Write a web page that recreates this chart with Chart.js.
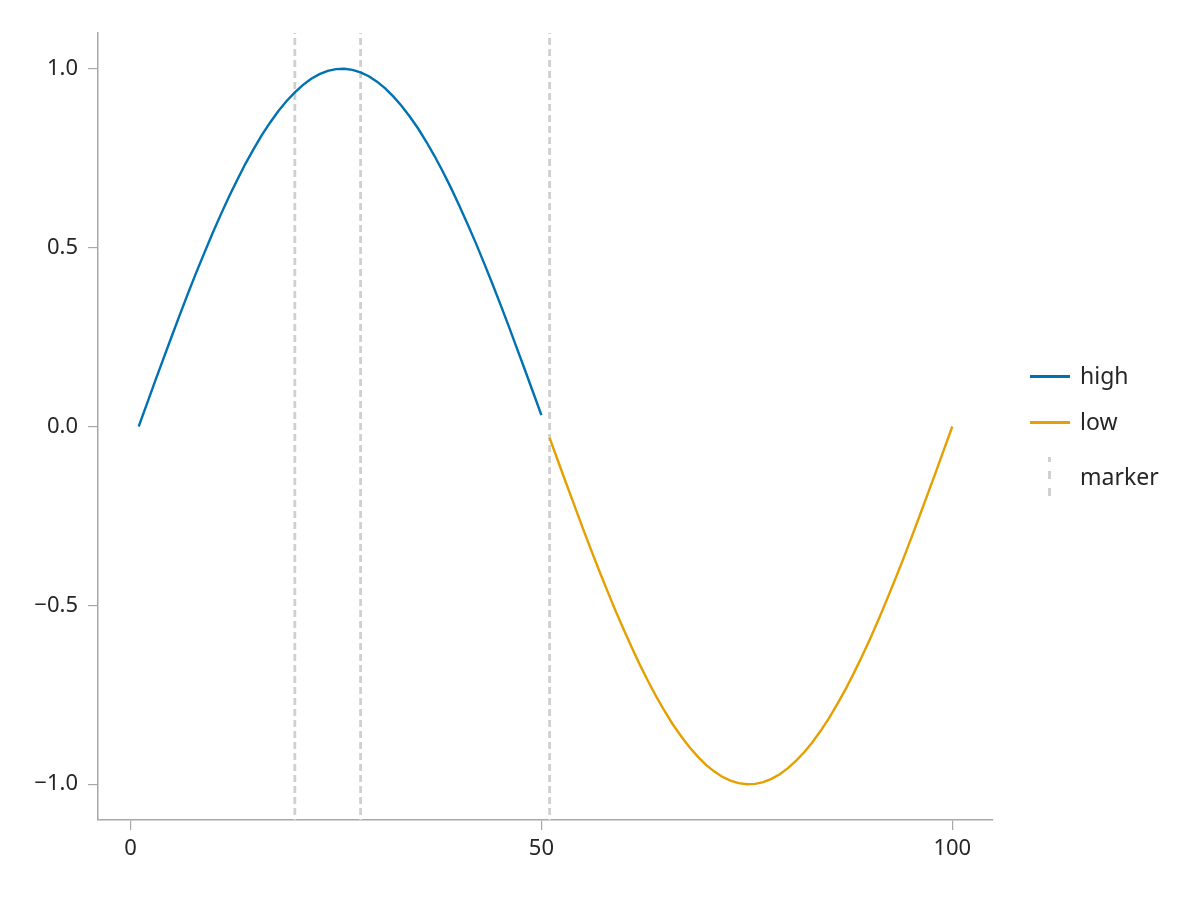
<!DOCTYPE html>
<html>
<head>
<meta charset="utf-8">
<script src="https://cdn.jsdelivr.net/npm/chart.js@4.4.0/dist/chart.umd.min.js"></script>
<style>
  html, body { margin: 0; padding: 0; background: #fff; }
  #wrap { position: relative; width: 1200px; height: 900px; }
  #chart { position: absolute; left: 0; top: 0; }
  .legend { position: absolute; left: 1030px; top: 0; font-family: "Noto Sans", sans-serif; font-size: 23px; color: #262626; }
  .item { position: absolute; left: 0; width: 170px; height: 42px; }
  .item .line { position: absolute; left: 0; top: 19px; width: 40px; height: 2.5px; }
  .item svg { position: absolute; left: 0; top: 0; }
  .item span { position: absolute; left: 50px; top: 4px; line-height: 30px; }
</style>
</head>
<body>
<div id="wrap">
  <canvas id="chart" width="1200" height="900"></canvas>
  <div class="legend">
    <div class="item" style="top:356px"><div class="line" style="background:#0072b2"></div><span>high</span></div>
    <div class="item" style="top:402px"><div class="line" style="background:#e69f00"></div><span>low</span></div>
    <div class="item" style="top:457px">
      <svg width="40" height="42"><line x1="19.5" y1="0" x2="19.5" y2="41" stroke="#d0d0d0" stroke-width="3" stroke-dasharray="5 9 8 9 8 9"/></svg>
      <span>marker</span>
    </div>
  </div>
</div>
<script>
const xHigh = [1, 2, 3, 4, 5, 6, 7, 8, 9, 10, 11, 12, 13, 14, 15, 16, 17, 18, 19, 20,
  21, 22, 23, 24, 25, 26, 27, 28, 29, 30, 31, 32, 33, 34, 35, 36, 37, 38, 39, 40,
  41, 42, 43, 44, 45, 46, 47, 48, 49, 50];
const yHigh = [0.000, 0.063, 0.127, 0.189, 0.251, 0.312, 0.372, 0.430, 0.486, 0.541,
  0.593, 0.643, 0.690, 0.735, 0.776, 0.815, 0.850, 0.882, 0.910, 0.934,
  0.955, 0.972, 0.985, 0.994, 0.999, 1.000, 0.997, 0.990, 0.979, 0.964,
  0.945, 0.922, 0.896, 0.866, 0.833, 0.796, 0.756, 0.713, 0.667, 0.618,
  0.567, 0.514, 0.458, 0.401, 0.342, 0.282, 0.220, 0.158, 0.095, 0.032];
const xLow = [51, 52, 53, 54, 55, 56, 57, 58, 59, 60, 61, 62, 63, 64, 65, 66, 67, 68, 69, 70,
  71, 72, 73, 74, 75, 76, 77, 78, 79, 80, 81, 82, 83, 84, 85, 86, 87, 88, 89, 90,
  91, 92, 93, 94, 95, 96, 97, 98, 99, 100];
const yLow = [-0.032, -0.095, -0.158, -0.220, -0.282, -0.342, -0.401, -0.458, -0.514, -0.567,
  -0.618, -0.667, -0.713, -0.756, -0.796, -0.833, -0.866, -0.896, -0.922, -0.945,
  -0.964, -0.979, -0.990, -0.997, -1.000, -0.999, -0.994, -0.985, -0.972, -0.955,
  -0.934, -0.910, -0.882, -0.850, -0.815, -0.776, -0.735, -0.690, -0.643, -0.593,
  -0.541, -0.486, -0.430, -0.372, -0.312, -0.251, -0.189, -0.127, -0.063, 0.000];
const markerX = [20, 28, 51];
const xTicks = [0, 50, 100];
const yTicks = [-1, -0.5, 0, 0.5, 1];

const X_MIN = -3.95, X_MAX = 104.95;
const Y_MIN = -1.1, Y_MAX = 1.1;
const AXIS_COLOR = "#a8a8a8";
const TEXT_COLOR = "#262626";
const FONT = { family: '"Noto Sans", sans-serif', size: 22 };

const pts = (xs, ys) => xs.map((x, i) => ({ x, y: ys[i] }));

// vertical markers as one dataset, drawn top-down, gaps between them
const markerPts = [];
markerX.forEach((x) => {
  markerPts.push({ x, y: Y_MAX }, { x, y: Y_MIN }, { x, y: null });
});

function fmt(v) {
  return v.toFixed(1).replace("-", "\u2212");
}

new Chart(document.getElementById("chart"), {
  type: "scatter",
  data: {
    datasets: [
      { label: "high", data: pts(xHigh, yHigh), showLine: true, borderColor: "#0072b2", borderWidth: 2.4, pointRadius: 0, tension: 0 },
      { label: "low", data: pts(xLow, yLow), showLine: true, borderColor: "#e69f00", borderWidth: 2.4, pointRadius: 0, tension: 0 },
      { label: "marker", data: markerPts, showLine: true, spanGaps: false, borderColor: "#d0d0d0", borderWidth: 2.8, borderDash: [7, 4], borderDashOffset: 6, pointRadius: 0 },
    ],
  },
  options: {
    responsive: false,
    animation: false,
    layout: { padding: { left: 0, top: 33, right: 207, bottom: 0 } },
    plugins: { legend: { display: false }, tooltip: { enabled: false } },
    scales: {
      x: {
        type: "linear",
        min: X_MIN,
        max: X_MAX,
        afterBuildTicks: (s) => { s.ticks = xTicks.map((v) => ({ value: v })); },
        afterFit: (s) => { s.height = 80; },
        ticks: { font: FONT, color: TEXT_COLOR, padding: 6, maxRotation: 0, callback: (v) => String(v) },
        grid: { drawOnChartArea: false, drawTicks: true, tickLength: 10, color: AXIS_COLOR, lineWidth: 1.2 },
        border: { display: true, color: AXIS_COLOR, width: 1.5 },
      },
      y: {
        type: "linear",
        min: Y_MIN,
        max: Y_MAX,
        afterBuildTicks: (s) => { s.ticks = yTicks.map((v) => ({ value: v })); },
        afterFit: (s) => { s.width = 98; },
        ticks: { font: FONT, color: TEXT_COLOR, padding: 10, callback: (v) => fmt(v) },
        grid: { drawOnChartArea: false, drawTicks: true, tickLength: 10, color: AXIS_COLOR, lineWidth: 1.2 },
        border: { display: true, color: AXIS_COLOR, width: 1.5 },
      },
    },
  },
});
</script>
</body>
</html>
